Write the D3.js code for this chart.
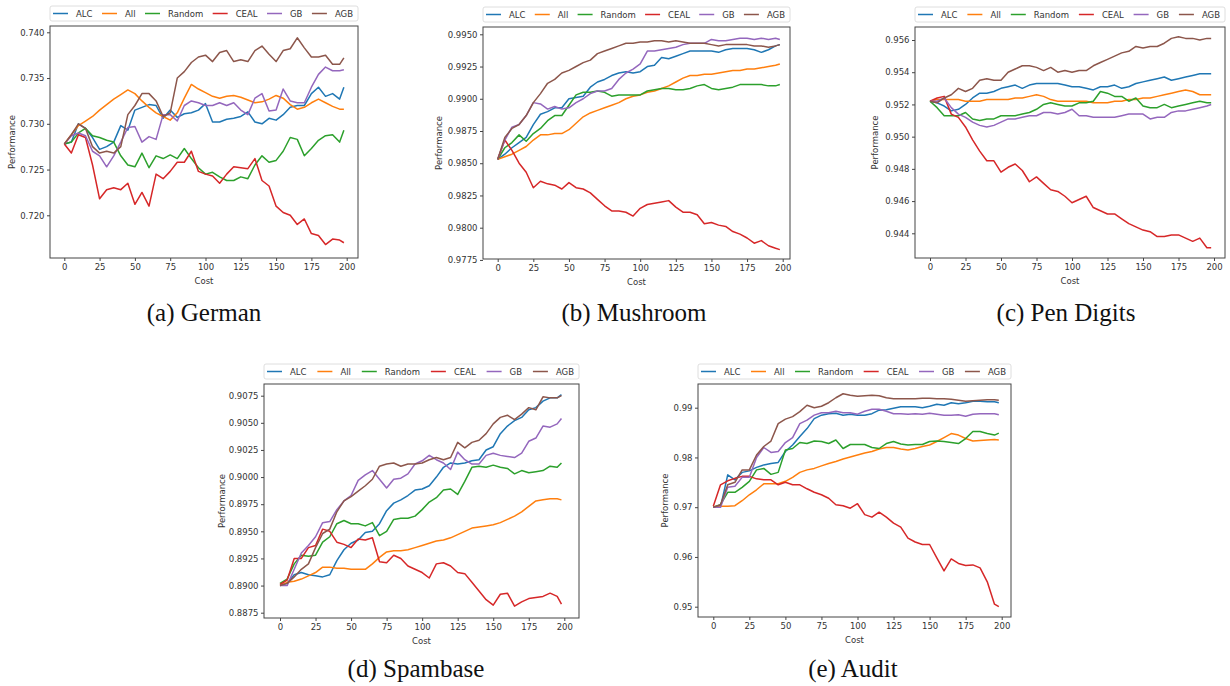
<!DOCTYPE html>
<html>
<head>
<meta charset="utf-8">
<script src="https://cdn.jsdelivr.net/npm/d3@7"></script>
<style>
  body { margin: 0; background: #fff; }
  svg { display: block; }
</style>
</head>
<body>
<svg id="chart" width="1230" height="686"></svg>
<script>
// x values shared by every panel
const cost = [0, 5, 10, 15, 20, 25, 30, 35, 40, 45, 50, 55, 60, 65, 70, 75, 80, 85, 90, 95,
  100, 105, 110, 115, 120, 125, 130, 135, 140, 145, 150, 155, 160, 165, 170, 175, 180, 185, 190, 195, 198];
const seriesNames = ['ALC', 'All', 'Random', 'CEAL', 'GB', 'AGB'];
const xTicks = [0, 25, 50, 75, 100, 125, 150, 175, 200];

// (a) German
const germanALC = [.7278,.7280,.7300,.7295,.7285,.7272,.7275,.7280,.7298,.7293,.7315,.7318,.7321,.7320,.7306,.7315,.7307,.7311,.7312,.7315,
  .7322,.7302,.7302,.7305,.7306,.7308,.7313,.7302,.7300,.7306,.7304,.7310,.7318,.7320,.7320,.7333,.7340,.7330,.7333,.7327,.7340];
const germanAll = [.7278,.7288,.7298,.7303,.7308,.7315,.7321,.7327,.7332,.7337,.7333,.7325,.7318,.7312,.7308,.7304,.7312,.7328,.7343,.7338,
  .7334,.7330,.7328,.7330,.7331,.7329,.7326,.7323,.7324,.7327,.7331,.7328,.7321,.7316,.7318,.7323,.7327,.7323,.7319,.7316,.7316];
const germanRandom = [.7278,.7280,.7290,.7295,.7287,.7285,.7282,.7280,.7265,.7255,.7253,.7268,.7252,.7265,.7262,.7266,.7262,.7273,.7262,.7252,
  .7245,.7247,.7242,.7238,.7238,.7242,.7240,.7255,.7265,.7258,.7260,.7270,.7285,.7283,.7265,.7273,.7282,.7287,.7288,.7280,.7293];
const germanCEAL = [.7278,.7268,.7288,.7285,.7255,.7218,.7228,.7230,.7228,.7235,.7212,.7225,.7210,.7245,.7240,.7248,.7258,.7258,.7270,.7248,
  .7245,.7243,.7235,.7245,.7253,.7252,.7251,.7262,.7238,.7232,.7210,.7203,.7200,.7190,.7196,.7180,.7178,.7168,.7174,.7173,.7170];
const germanGB = [.7278,.7287,.7290,.7287,.7270,.7265,.7253,.7265,.7280,.7296,.7297,.7280,.7286,.7283,.7310,.7310,.7303,.7320,.7325,.7323,
  .7320,.7320,.7323,.7320,.7323,.7315,.7310,.7328,.7333,.7314,.7315,.7338,.7325,.7323,.7323,.7340,.7354,.7362,.7358,.7358,.7359];
const germanAGB = [.7278,.7288,.7300,.7295,.7275,.7268,.7270,.7268,.7275,.7310,.7320,.7333,.7333,.7325,.7308,.7312,.7350,.7357,.7367,.7373,
  .7375,.7368,.7378,.7380,.7368,.7370,.7368,.7380,.7385,.7376,.7368,.7380,.7382,.7394,.7383,.7373,.7373,.7375,.7365,.7365,.7372];

// (b) Mushroom
const mushroomALC = [.9853,.9857,.9862,.9866,.9870,.9880,.9888,.9890,.9893,.9893,.9900,.9901,.9902,.9909,.9913,.9915,.9918,.9920,.9921,.9920,
  .9921,.9925,.9926,.9932,.9931,.9933,.9935,.9937,.9937,.9937,.9937,.9936,.9938,.9939,.9939,.9939,.9938,.9936,.9938,.9941,.9942];
const mushroomAll = [.9853,.9855,.9857,.9860,.9863,.9868,.9872,.9872,.9873,.9873,.9876,.9881,.9886,.9889,.9891,.9893,.9895,.9897,.9900,.9902,
  .9903,.9905,.9906,.9908,.9910,.9913,.9916,.9918,.9918,.9919,.9919,.9920,.9921,.9922,.9922,.9923,.9923,.9924,.9925,.9926,.9927];
const mushroomRandom = [.9853,.9862,.9866,.9872,.9867,.9873,.9877,.9883,.9887,.9887,.9895,.9903,.9905,.9905,.9906,.9905,.9902,.9903,.9903,.9903,
  .9903,.9906,.9907,.9908,.9908,.9907,.9907,.9908,.9910,.9911,.9908,.9907,.9908,.9909,.9911,.9911,.9911,.9911,.9910,.9910,.9911];
const mushroomCEAL = [.9853,.9868,.9860,.9850,.9843,.9831,.9836,.9834,.9833,.9830,.9835,.9831,.9830,.9827,.9822,.9817,.9813,.9813,.9812,.9809,
  .9815,.9818,.9819,.9820,.9821,.9816,.9812,.9812,.9810,.9803,.9804,.9802,.9801,.9797,.9795,.9792,.9788,.9790,.9786,.9784,.9783];
const mushroomGB = [.9853,.9868,.9878,.9880,.9887,.9897,.9896,.9892,.9894,.9892,.9893,.9897,.9900,.9904,.9906,.9906,.9908,.9915,.9920,.9923,
  .9927,.9937,.9937,.9938,.9939,.9940,.9942,.9943,.9943,.9943,.9946,.9945,.9945,.9946,.9947,.9947,.9946,.9947,.9946,.9947,.9946];
const mushroomAGB = [.9853,.9870,.9877,.9880,.9887,.9897,.9904,.9912,.9915,.9920,.9922,.9925,.9928,.9930,.9935,.9937,.9939,.9941,.9943,.9943,
  .9944,.9944,.9945,.9945,.9944,.9945,.9944,.9943,.9943,.9943,.9942,.9941,.9942,.9942,.9942,.9942,.9941,.9941,.9940,.9941,.9942];

// (c) Pen Digits
const penALC = [.9522,.9521,.9519,.9516,.9517,.9520,.9524,.9527,.9527,.9528,.9530,.9531,.9532,.9530,.9532,.9533,.9533,.9533,.9533,.9532,
  .9531,.9531,.9530,.9529,.9531,.9531,.9532,.9530,.9531,.9533,.9534,.9535,.9536,.9537,.9535,.9536,.9537,.9538,.9539,.9539,.9539];
const penAll = [.9522,.9523,.9523,.9523,.9523,.9522,.9522,.9522,.9523,.9523,.9523,.9523,.9524,.9524,.9525,.9526,.9525,.9523,.9522,.9522,
  .9522,.9522,.9522,.9521,.9521,.9521,.9522,.9522,.9523,.9523,.9524,.9524,.9525,.9526,.9527,.9528,.9529,.9528,.9526,.9526,.9526];
const penRandom = [.9522,.9518,.9513,.9513,.9513,.9515,.9511,.9510,.9511,.9511,.9513,.9513,.9513,.9514,.9515,.9517,.9520,.9521,.9520,.9519,
  .9519,.9521,.9521,.9522,.9528,.9527,.9525,.9525,.9522,.9524,.9519,.9518,.9518,.9520,.9518,.9519,.9520,.9521,.9522,.9521,.9521];
const penCEAL = [.9522,.9524,.9525,.9514,.9512,.9506,.9498,.9491,.9485,.9485,.9478,.9481,.9483,.9479,.9472,.9475,.9471,.9467,.9466,.9463,
  .9459,.9461,.9463,.9456,.9454,.9452,.9452,.9449,.9446,.9444,.9442,.9441,.9438,.9438,.9439,.9439,.9437,.9435,.9437,.9431,.9431];
const penGB = [.9522,.9522,.9524,.9518,.9514,.9512,.9509,.9507,.9506,.9507,.9509,.9511,.9511,.9512,.9513,.9513,.9515,.9515,.9514,.9515,
  .9517,.9513,.9513,.9512,.9512,.9512,.9512,.9513,.9514,.9514,.9514,.9511,.9512,.9512,.9515,.9516,.9516,.9517,.9518,.9519,.9520];
const penAGB = [.9522,.9521,.9524,.9526,.9530,.9528,.9530,.9535,.9536,.9535,.9535,.9540,.9542,.9544,.9544,.9543,.9541,.9543,.9540,.9541,
  .9540,.9541,.9541,.9544,.9546,.9548,.9550,.9552,.9553,.9556,.9555,.9556,.9556,.9558,.9561,.9562,.9561,.9561,.9560,.9561,.9561];

// (d) Spambase
const spamALC = [.8900,.8902,.8910,.8912,.8910,.8909,.8908,.8910,.8923,.8933,.8939,.8942,.8949,.8950,.8957,.8969,.8976,.8979,.8983,.8988,
  .8989,.8992,.9000,.9009,.9013,.9012,.9013,.9015,.9016,.9025,.9028,.9040,.9047,.9052,.9055,.9062,.9064,.9070,.9073,.9073,.9076];
const spamAll = [.8900,.8903,.8904,.8906,.8909,.8912,.8917,.8917,.8916,.8916,.8915,.8915,.8915,.8920,.8926,.8931,.8932,.8932,.8933,.8935,
  .8937,.8939,.8941,.8942,.8944,.8947,.8950,.8953,.8954,.8955,.8956,.8958,.8961,.8964,.8968,.8973,.8978,.8979,.8980,.8980,.8979];
const spamRandom = [.8902,.8906,.8920,.8928,.8927,.8928,.8940,.8945,.8957,.8960,.8957,.8957,.8955,.8958,.8946,.8950,.8961,.8962,.8962,.8964,
  .8970,.8977,.8981,.8988,.8989,.8984,.8996,.9009,.9010,.9009,.9011,.9009,.9008,.9003,.9006,.9004,.9005,.9006,.9010,.9009,.9013];
const spamCEAL = [.8901,.8905,.8925,.8925,.8935,.8937,.8952,.8950,.8940,.8938,.8935,.8943,.8942,.8944,.8922,.8921,.8928,.8925,.8918,.8915,
  .8912,.8907,.8920,.8921,.8918,.8912,.8911,.8903,.8895,.8887,.8882,.8892,.8893,.8881,.8885,.8888,.8889,.8890,.8893,.8890,.8883];
const spamGB = [.8900,.8900,.8915,.8930,.8937,.8945,.8958,.8959,.8970,.8978,.8983,.8997,.9002,.9006,.8998,.8990,.8998,.8999,.9003,.9012,
  .9015,.9020,.9016,.9013,.9007,.9023,.9016,.9012,.9012,.9020,.9022,.9020,.9019,.9018,.9022,.9033,.9036,.9047,.9046,.9049,.9054];
const spamAGB = [.8900,.8902,.8908,.8915,.8920,.8935,.8948,.8952,.8968,.8978,.8982,.8987,.8992,.8998,.9010,.9012,.9013,.9010,.9012,.9012,
  .9013,.9016,.9018,.9016,.9018,.9032,.9027,.9032,.9034,.9040,.9049,.9055,.9057,.9053,.9058,.9064,.9062,.9074,.9073,.9073,.9075];

// (e) Audit
const auditALC = [.9700,.9700,.9765,.9755,.9770,.9773,.9780,.9785,.9788,.9790,.9812,.9825,.9842,.9858,.9878,.9885,.9888,.9889,.9885,.9887,
  .9885,.9885,.9888,.9895,.9896,.9899,.9902,.9902,.9902,.9900,.9903,.9907,.9905,.9910,.9908,.9910,.9913,.9913,.9912,.9912,.9910];
const auditAll = [.9700,.9702,.9702,.9703,.9713,.9725,.9735,.9747,.9747,.9747,.9752,.9760,.9770,.9775,.9778,.9783,.9788,.9792,.9797,.9801,
  .9805,.9809,.9812,.9817,.9820,.9820,.9817,.9815,.9818,.9822,.9825,.9832,.9840,.9848,.9845,.9838,.9833,.9834,.9835,.9836,.9835];
const auditRandom = [.9700,.9705,.9730,.9730,.9740,.9752,.9775,.9778,.9766,.9770,.9815,.9818,.9830,.9828,.9833,.9832,.9828,.9835,.9818,.9826,
  .9826,.9826,.9820,.9818,.9828,.9832,.9827,.9825,.9826,.9826,.9832,.9833,.9832,.9830,.9828,.9838,.9852,.9852,.9848,.9845,.9849];
const auditCEAL = [.9702,.9745,.9753,.9758,.9762,.9762,.9757,.9755,.9755,.9745,.9750,.9745,.9745,.9737,.9730,.9725,.9718,.9705,.9703,.9698,
  .9707,.9685,.9680,.9690,.9680,.9668,.9660,.9638,.9630,.9625,.9625,.9598,.9572,.9596,.9587,.9583,.9584,.9578,.9550,.9505,.9500];
const auditGB = [.9700,.9700,.9740,.9742,.9760,.9760,.9800,.9820,.9810,.9812,.9830,.9840,.9868,.9875,.9885,.9890,.9890,.9893,.9890,.9890,
  .9887,.9893,.9897,.9897,.9893,.9888,.9888,.9887,.9888,.9887,.9889,.9887,.9885,.9885,.9886,.9883,.9887,.9888,.9888,.9888,.9886];
const auditAGB = [.9700,.9705,.9745,.9750,.9775,.9775,.9805,.9822,.9833,.9868,.9877,.9882,.9892,.9905,.9900,.9903,.9910,.9920,.9928,.9925,
  .9923,.9924,.9925,.9924,.9920,.9918,.9918,.9918,.9918,.9919,.9919,.9918,.9918,.9917,.9915,.9913,.9914,.9915,.9916,.9916,.9915];

// tick labels
const germanTicks = [0.720, 0.725, 0.730, 0.735, 0.740];
const mushroomTicks = [0.9775, 0.9800, 0.9825, 0.9850, 0.9875, 0.9900, 0.9925, 0.9950];
const penTicks = [0.944, 0.946, 0.948, 0.950, 0.952, 0.954, 0.956];
const spamTicks = [0.8875, 0.8900, 0.8925, 0.8950, 0.8975, 0.9000, 0.9025, 0.9050, 0.9075];
const auditTicks = [0.95, 0.96, 0.97, 0.98, 0.99];

const captions = ['(a) German', '(b) Mushroom', '(c) Pen Digits', '(d) Spambase', '(e) Audit'];

const panels = [
  { caption: captions[0], series: [germanALC, germanAll, germanRandom, germanCEAL, germanGB, germanAGB], ticks: germanTicks, fmt: '.3f' },
  { caption: captions[1], series: [mushroomALC, mushroomAll, mushroomRandom, mushroomCEAL, mushroomGB, mushroomAGB], ticks: mushroomTicks, fmt: '.4f' },
  { caption: captions[2], series: [penALC, penAll, penRandom, penCEAL, penGB, penAGB], ticks: penTicks, fmt: '.3f' },
  { caption: captions[3], series: [spamALC, spamAll, spamRandom, spamCEAL, spamGB, spamAGB], ticks: spamTicks, fmt: '.4f' },
  { caption: captions[4], series: [auditALC, auditAll, auditRandom, auditCEAL, auditGB, auditAGB], ticks: auditTicks, fmt: '.2f' }
];

// layout: frame box, pixel calibration of the scales, label offsets
const layout = [
  { frame: [50, 26, 358, 258],  xr: [64.3, 346.7],  yd: [0.740, 0.720],   yr: [32.3, 215.3],  ylab: -38, cap: [204, 321] },
  { frame: [483, 27, 790, 259], xr: [497.7, 782.7], yd: [0.9950, 0.9800], yr: [34.3, 227.7],  ylab: -44, cap: [634, 321] },
  { frame: [915, 27, 1225, 258], xr: [930, 1214],   yd: [0.956, 0.944],   yr: [40, 233.3],    ylab: -40, cap: [1066, 321] },
  { frame: [264, 384, 579, 618], xr: [280, 564.3],  yd: [0.9075, 0.8875], yr: [395.7, 612.7], ylab: -42, cap: [416, 677] },
  { frame: [698, 384, 1011, 617], xr: [713.3, 1001.7], yd: [0.99, 0.95],  yr: [407.7, 606.7], ylab: -33, cap: [853, 677] }
];

const color = d3.scaleOrdinal()
  .domain(seriesNames)
  .range(['#1f77b4', '#ff7f0e', '#2ca02c', '#d62728', '#9467bd', '#8c564b']);

const svg = d3.select('#chart');
const font = '"DejaVu Sans", sans-serif';

panels.forEach((p, i) => {
  const L = layout[i];
  const [fx0, fy0, fx1, fy1] = L.frame;
  const g = svg.append('g');

  const x = d3.scaleLinear().domain([0, 200]).range(L.xr);
  const y = d3.scaleLinear().domain(L.yd).range(L.yr);

  // lines
  const line = d3.line()
    .x((d, j) => x(cost[j]))
    .y(d => y(d));

  p.series.forEach((vals, k) => {
    g.append('path')
      .datum(vals)
      .attr('fill', 'none')
      .attr('stroke', color(seriesNames[k]))
      .attr('stroke-width', 1.5)
      .attr('stroke-linejoin', 'round')
      .attr('d', line);
  });

  // frame
  g.append('rect')
    .attr('x', fx0).attr('y', fy0)
    .attr('width', fx1 - fx0).attr('height', fy1 - fy0)
    .attr('fill', 'none')
    .attr('stroke', '#444')
    .attr('stroke-width', 1);

  // axes
  const xAxis = g.append('g')
    .attr('transform', `translate(0,${fy1})`)
    .call(d3.axisBottom(x).tickValues(xTicks).tickSize(3).tickPadding(2.5));
  const yAxis = g.append('g')
    .attr('transform', `translate(${fx0},0)`)
    .call(d3.axisLeft(y).tickValues(p.ticks).tickFormat(d3.format(p.fmt)).tickSize(3).tickPadding(2.5));

  [xAxis, yAxis].forEach(a => {
    a.select('.domain').remove();
    a.selectAll('line').attr('stroke', '#444');
    a.selectAll('text')
      .attr('fill', '#333')
      .style('font-family', font)
      .style('font-size', '8.5px');
  });

  // axis labels
  g.append('text')
    .attr('x', (fx0 + fx1) / 2)
    .attr('y', fy1 + 26)
    .attr('text-anchor', 'middle')
    .attr('fill', '#333')
    .style('font-family', font)
    .style('font-size', '8.5px')
    .text('Cost');

  g.append('text')
    .attr('transform', `translate(${fx0 + L.ylab + 3},${(fy0 + fy1) / 2}) rotate(-90)`)
    .attr('text-anchor', 'middle')
    .attr('fill', '#333')
    .style('font-family', font)
    .style('font-size', '8.5px')
    .text('Performance');

  // legend, spread over the width of the axes
  const legTop = fy0 - 20, legH = 15;
  const leg = g.append('g');
  leg.append('rect')
    .attr('x', fx0).attr('y', legTop)
    .attr('width', fx1 - fx0).attr('height', legH)
    .attr('rx', 2)
    .attr('fill', '#fff')
    .attr('stroke', '#d6d6d6')
    .attr('stroke-width', 0.8);

  const handle = 15, pad = 8;
  const items = seriesNames.map(name => {
    const it = leg.append('g');
    it.append('line')
      .attr('x1', 0).attr('x2', handle)
      .attr('y1', 0).attr('y2', 0)
      .attr('stroke', color(name))
      .attr('stroke-width', 1.5);
    const t = it.append('text')
      .attr('x', handle + pad)
      .attr('y', 3)
      .attr('fill', '#333')
      .style('font-family', font)
      .style('font-size', '8.5px')
      .text(name);
    return { it, w: handle + pad + t.node().getComputedTextLength() };
  });
  const inner = (fx1 - fx0) - 8;
  const gap = (inner - d3.sum(items, d => d.w)) / (items.length - 1);
  let cx = fx0 + 3;
  items.forEach(d => {
    d.it.attr('transform', `translate(${cx},${legTop + legH / 2})`);
    cx += d.w + gap;
  });

  // caption
  svg.append('text')
    .attr('x', L.cap[0])
    .attr('y', L.cap[1])
    .attr('text-anchor', 'middle')
    .attr('fill', '#111')
    .style('font-family', '"Liberation Serif", "Times New Roman", serif')
    .style('font-size', '25px')
    .text(p.caption);
});
</script>
</body>
</html>
